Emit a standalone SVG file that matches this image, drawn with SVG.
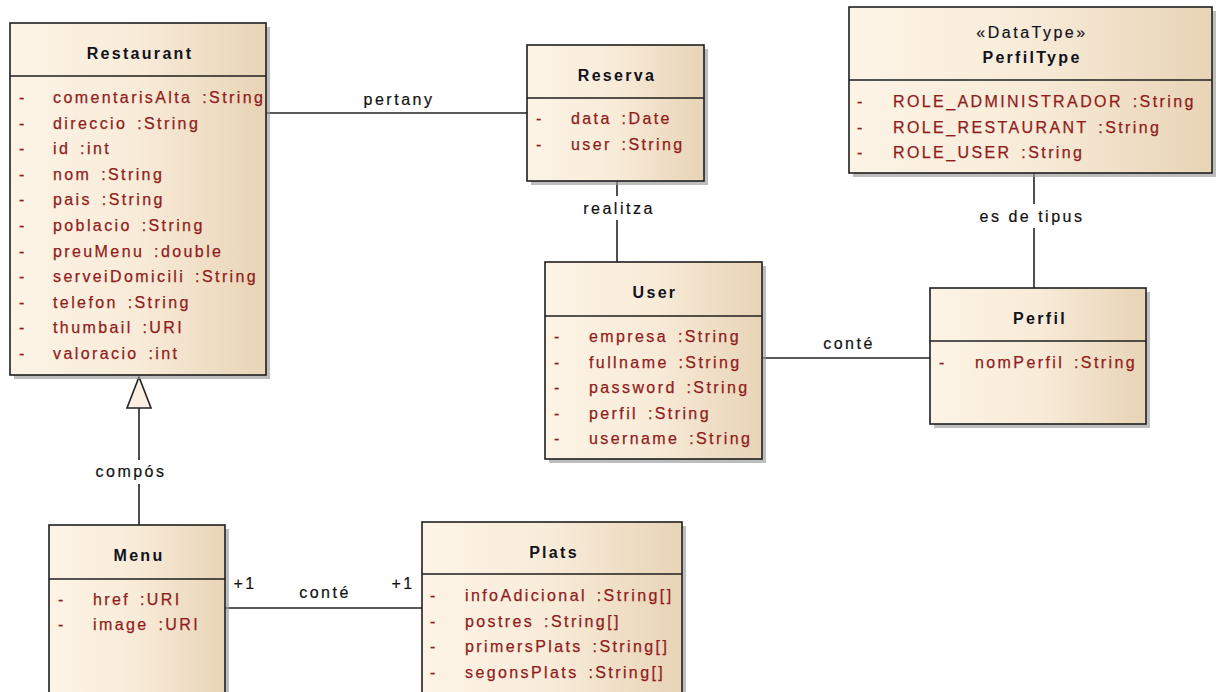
<svg xmlns="http://www.w3.org/2000/svg" width="1216" height="692" viewBox="0 0 1216 692">
<defs>
<linearGradient id="g" x1="0" y1="0" x2="1" y2="0">
<stop offset="0" stop-color="#fdf4e6"/>
<stop offset="0.5" stop-color="#f8ebd8"/>
<stop offset="1" stop-color="#e8d4b6"/>
</linearGradient>
<style>
.box{fill:url(#g);stroke:#1e1e1e;stroke-width:1.6}
.shadow{fill:#9a9a9a;opacity:0.65}
.div{stroke:#1e1e1e;stroke-width:1.6}
.title{font-family:"Liberation Sans",Arial,sans-serif;font-size:16px;font-weight:bold;letter-spacing:2.3px;fill:#10121c;text-anchor:middle}
.stereo{font-family:"Liberation Sans",Arial,sans-serif;font-size:16px;letter-spacing:2.5px;fill:#10121c;text-anchor:middle;stroke:#10121c;stroke-width:0.2}
.attr{font-family:"Liberation Sans",Arial,sans-serif;font-size:16px;letter-spacing:2.4px;word-spacing:3px;fill:#901c1c;stroke:#901c1c;stroke-width:0.25}
.lbl{font-family:"Liberation Sans",Arial,sans-serif;font-size:16px;letter-spacing:2.5px;fill:#111;text-anchor:middle;stroke:#111;stroke-width:0.2}
.conn{stroke:#222;stroke-width:1.6;fill:none}
.bg{fill:#fff}
</style>
</defs>
<rect width="1216" height="692" fill="#fff"/>

<g id="connectors">
<line class="conn" x1="266" y1="113" x2="527" y2="113"/>
<line class="conn" x1="617" y1="181" x2="617" y2="262"/>
<line class="conn" x1="1034" y1="173" x2="1034" y2="288"/>
<line class="conn" x1="762" y1="358" x2="930" y2="358"/>
<line class="conn" x1="139" y1="408" x2="139" y2="525"/>
<polygon points="139,377 127,408 151,408" fill="#fbf0e1" stroke="#222" stroke-width="1.6"/>
<line class="conn" x1="225" y1="608" x2="422" y2="608"/>
<text class="lbl" x="399" y="105">pertany</text>
<rect class="bg" x="578" y="196" width="80" height="24"/>
<text class="lbl" x="619" y="214">realitza</text>
<rect class="bg" x="972" y="204" width="118" height="24"/>
<text class="lbl" x="1032" y="222">es de tipus</text>
<text class="lbl" x="849" y="349">conté</text>
<rect class="bg" x="92" y="460" width="78" height="24"/>
<text class="lbl" x="131" y="477">compós</text>
<rect class="bg" x="229" y="574" width="30" height="20"/>
<text class="lbl" x="245" y="589">+1</text>
<text class="lbl" x="325" y="598">conté</text>
<text class="lbl" x="403" y="589">+1</text>
</g>

<g id="restaurant">
<rect class="shadow" x="14" y="27" width="256" height="352"/>
<rect class="box" x="10" y="23" width="256" height="352"/>
<line class="div" x1="10" y1="76" x2="266" y2="76"/>
<text class="title" x="140" y="59">Restaurant</text>
<text class="attr" x="19" y="103">-</text><text class="attr" x="53" y="103">comentarisAlta :String</text>
<text class="attr" x="19" y="128.6">-</text><text class="attr" x="53" y="128.6">direccio :String</text>
<text class="attr" x="19" y="154.2">-</text><text class="attr" x="53" y="154.2">id :int</text>
<text class="attr" x="19" y="179.8">-</text><text class="attr" x="53" y="179.8">nom :String</text>
<text class="attr" x="19" y="205.4">-</text><text class="attr" x="53" y="205.4">pais :String</text>
<text class="attr" x="19" y="231">-</text><text class="attr" x="53" y="231">poblacio :String</text>
<text class="attr" x="19" y="256.6">-</text><text class="attr" x="53" y="256.6">preuMenu :double</text>
<text class="attr" x="19" y="282.2">-</text><text class="attr" x="53" y="282.2">serveiDomicili :String</text>
<text class="attr" x="19" y="307.8">-</text><text class="attr" x="53" y="307.8">telefon :String</text>
<text class="attr" x="19" y="333.4">-</text><text class="attr" x="53" y="333.4">thumbail :URI</text>
<text class="attr" x="19" y="359">-</text><text class="attr" x="53" y="359">valoracio :int</text>
</g>

<g id="reserva">
<rect class="shadow" x="531" y="49" width="177" height="136"/>
<rect class="box" x="527" y="45" width="177" height="136"/>
<line class="div" x1="527" y1="98" x2="704" y2="98"/>
<text class="title" x="617" y="81">Reserva</text>
<text class="attr" x="536" y="124">-</text><text class="attr" x="571" y="124">data :Date</text>
<text class="attr" x="536" y="150">-</text><text class="attr" x="571" y="150">user :String</text>
</g>

<g id="perfiltype">
<rect class="shadow" x="853" y="11" width="363" height="166"/>
<rect class="box" x="849" y="7" width="363" height="166"/>
<line class="div" x1="849" y1="80" x2="1212" y2="80"/>
<text class="stereo" x="1032" y="38">«DataType»</text>
<text class="title" x="1032" y="63">PerfilType</text>
<text class="attr" x="857" y="107">-</text><text class="attr" x="893" y="107">ROLE_ADMINISTRADOR :String</text>
<text class="attr" x="857" y="132.5">-</text><text class="attr" x="893" y="132.5">ROLE_RESTAURANT :String</text>
<text class="attr" x="857" y="158">-</text><text class="attr" x="893" y="158">ROLE_USER :String</text>
</g>

<g id="user">
<rect class="shadow" x="549" y="266" width="217" height="197"/>
<rect class="box" x="545" y="262" width="217" height="197"/>
<line class="div" x1="545" y1="316" x2="762" y2="316"/>
<text class="title" x="655" y="298">User</text>
<text class="attr" x="554" y="342">-</text><text class="attr" x="589" y="342">empresa :String</text>
<text class="attr" x="554" y="367.5">-</text><text class="attr" x="589" y="367.5">fullname :String</text>
<text class="attr" x="554" y="393">-</text><text class="attr" x="589" y="393">password :String</text>
<text class="attr" x="554" y="418.5">-</text><text class="attr" x="589" y="418.5">perfil :String</text>
<text class="attr" x="554" y="444">-</text><text class="attr" x="589" y="444">username :String</text>
</g>

<g id="perfil">
<rect class="shadow" x="934" y="292" width="216" height="136"/>
<rect class="box" x="930" y="288" width="216" height="136"/>
<line class="div" x1="930" y1="341" x2="1146" y2="341"/>
<text class="title" x="1040" y="324">Perfil</text>
<text class="attr" x="939" y="368">-</text><text class="attr" x="975" y="368">nomPerfil :String</text>
</g>

<g id="menu">
<rect class="shadow" x="53" y="529" width="176" height="180"/>
<rect class="box" x="49" y="525" width="176" height="180"/>
<line class="div" x1="49" y1="579" x2="225" y2="579"/>
<text class="title" x="139" y="561">Menu</text>
<text class="attr" x="58" y="605">-</text><text class="attr" x="93" y="605">href :URI</text>
<text class="attr" x="58" y="630">-</text><text class="attr" x="93" y="630">image :URI</text>
</g>

<g id="plats">
<rect class="shadow" x="426" y="526" width="260" height="180"/>
<rect class="box" x="422" y="522" width="260" height="180"/>
<line class="div" x1="422" y1="574" x2="682" y2="574"/>
<text class="title" x="554" y="558">Plats</text>
<text class="attr" x="430" y="601">-</text><text class="attr" x="465" y="601">infoAdicional :String[]</text>
<text class="attr" x="430" y="626.6">-</text><text class="attr" x="465" y="626.6">postres :String[]</text>
<text class="attr" x="430" y="652.2">-</text><text class="attr" x="465" y="652.2">primersPlats :String[]</text>
<text class="attr" x="430" y="677.8">-</text><text class="attr" x="465" y="677.8">segonsPlats :String[]</text>
</g>
</svg>
